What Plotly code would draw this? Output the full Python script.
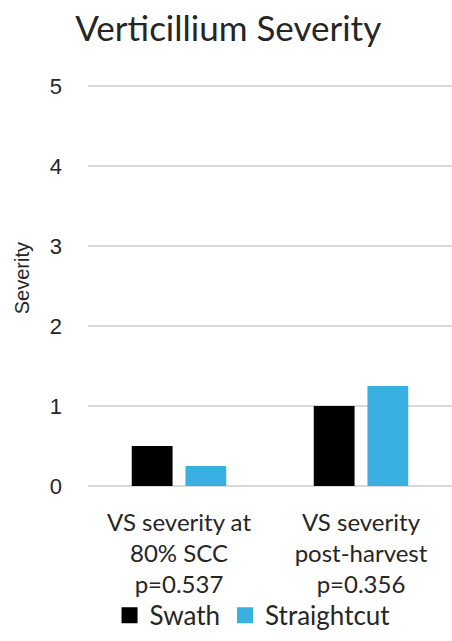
import plotly.graph_objects as go

categories = ["VS severity at<br>80% SCC<br>p=0.537", "VS severity<br>post-harvest<br>p=0.356"]
swath = [0.5, 1.0]
straightcut = [0.25, 1.25]
y_ticks = [0, 1, 2, 3, 4, 5]

BLACK = "#000000"
BLUE = "#3AB0E2"
GRID = "#D9D9D9"
TEXT = "#262626"

fig = go.Figure()
fig.add_trace(go.Bar(name="Swath", x=categories, y=swath, marker_color=BLACK,
                     marker_line_width=0, showlegend=False))
fig.add_trace(go.Bar(name="Straightcut", x=categories, y=straightcut, marker_color=BLUE,
                     marker_line_width=0, showlegend=False))

# legend entries with larger square keys
for name, col in [("Swath", BLACK), ("Straightcut", BLUE)]:
    fig.add_trace(go.Scatter(x=[None], y=[None], mode="markers", name=name,
                             marker=dict(symbol="square", size=16, color=col)))

fig.update_layout(
    width=452, height=641,
    margin=dict(l=88, r=0, t=82, b=155),
    paper_bgcolor="white", plot_bgcolor="white",
    barmode="group", bargap=0.41, bargroupgap=0.24,
    title=dict(text="Verticillium Severity", x=0.505, xanchor="center",
               y=0.955, yanchor="middle",
               font=dict(family="Lato", size=35, color=TEXT)),
    xaxis=dict(showgrid=False, showline=False, ticks="", ticklabelstandoff=20,
               tickfont=dict(family="Lato", size=24, color=TEXT)),
    yaxis=dict(range=[0, 5.05], tickvals=y_ticks, showgrid=True, gridcolor=GRID,
               gridwidth=1.5, zeroline=True, zerolinecolor=GRID, zerolinewidth=1.5,
               showline=False, ticks="", ticklabelstandoff=25,
               tickfont=dict(family="Liberation Sans", size=22, color=TEXT)),
    legend=dict(orientation="h", x=0.452, xanchor="center", y=-0.32, yanchor="middle",
                bgcolor="rgba(0,0,0,0)",
                font=dict(family="Lato", size=26, color=TEXT),
                itemwidth=30, tracegroupgap=0),
    annotations=[dict(text="Severity", textangle=-90, xref="paper", yref="paper",
                      x=-0.179, y=0.519 * 5.0 / 5.05, xanchor="center", yanchor="middle",
                      showarrow=False,
                      font=dict(family="Liberation Sans", size=20, color=TEXT))],
)

fig.write_html("out.html")
